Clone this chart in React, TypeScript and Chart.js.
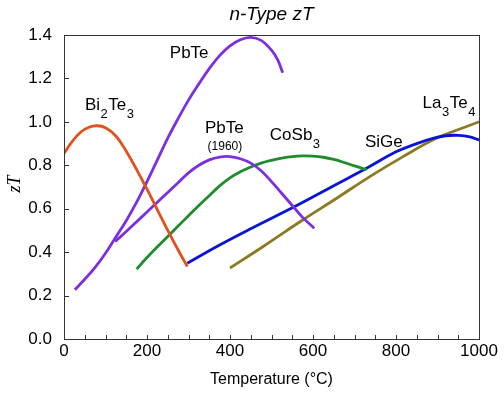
import React, { useEffect, useRef } from "react";
import { Chart, registerables } from "chart.js";

Chart.register(...registerables);

// ---- Data (temperature °C, zT) ----
const bi2te3T = [0, 20, 40, 60, 80, 100, 125, 150, 175, 200, 225, 250, 275, 297];
const bi2te3ZT = [0.855, 0.91, 0.952, 0.975, 0.982, 0.973, 0.935, 0.865, 0.78, 0.69, 0.595, 0.5, 0.41, 0.334];

const pbteT = [26, 50, 75, 100, 125, 150, 175, 200, 225, 250, 275, 300, 325, 350, 375, 400, 425, 450, 475, 500, 515, 527];
const pbteZT = [0.227, 0.275, 0.33, 0.395, 0.47, 0.545, 0.63, 0.725, 0.825, 0.925, 1.015, 1.1, 1.175, 1.245, 1.305, 1.35, 1.378, 1.389, 1.375, 1.33, 1.285, 1.226];

const pbte1960T = [123, 150, 175, 200, 225, 250, 275, 300, 325, 350, 375, 400, 425, 450, 475, 500, 525, 550, 575, 603];
const pbte1960ZT = [0.449, 0.495, 0.54, 0.585, 0.63, 0.675, 0.72, 0.765, 0.8, 0.825, 0.838, 0.84, 0.83, 0.81, 0.775, 0.725, 0.67, 0.615, 0.56, 0.51];

const cosb3T = [175, 200, 225, 250, 275, 300, 325, 350, 375, 400, 425, 450, 475, 500, 525, 550, 575, 600, 625, 650, 675, 700, 729];
const cosb3ZT = [0.322, 0.375, 0.425, 0.472, 0.52, 0.568, 0.615, 0.66, 0.705, 0.742, 0.77, 0.792, 0.81, 0.823, 0.833, 0.84, 0.843, 0.842, 0.837, 0.827, 0.813, 0.797, 0.78];

const sigeT = [297, 375, 450, 556, 650, 729, 800, 850, 889, 920, 950, 978, 1000];
const sigeZT = [0.349, 0.433, 0.508, 0.61, 0.706, 0.786, 0.862, 0.9, 0.924, 0.936, 0.938, 0.931, 0.916];

const la3te4T = [400, 480, 576, 657, 737, 817, 897, 954, 1000];
const la3te4ZT = [0.327, 0.426, 0.549, 0.648, 0.748, 0.84, 0.924, 0.967, 1.0];

const xMin = 0;
const xMax = 1000;
const xStep = 50;
const xLabelEvery = 200;
const yMin = 0;
const yMax = 1.4;
const yStep = 0.2;

const titleText = "n-Type zT";
const xTitle = "Temperature (°C)";
const yTitle = "zT";

// Curve labels: parts as [text, isSubscript]
const labelParts: [string, boolean][][] = [
  [["PbTe", false]],
  [["Bi", false], ["2", true], ["Te", false], ["3", true]],
  [["PbTe", false]],
  [["CoSb", false], ["3", true]],
  [["SiGe", false]],
  [["La", false], ["3", true], ["Te", false], ["4", true]],
];
const labelT = [255, 50.6, 339.5, 496, 725, 864];
const labelZT = [1.293, 1.054, 0.948, 0.916, 0.884, 1.063];
const noteText = "(1960)";
const noteT = 387.7;
const noteZT = 0.87;

const colors = {
  bi: "#E2501C",
  pbte: "#7B2FE0",
  co: "#1C8C2C",
  si: "#0A14D6",
  la: "#8C7A22",
};

const pts = (xs: number[], ys: number[]) => xs.map((x, i) => ({ x, y: ys[i] }));

const SANS = 'Arial, "Liberation Sans", sans-serif';

const decorPlugin = {
  id: "decor",
  afterDraw(chart: any) {
    const { ctx, chartArea } = chart;
    const xs = chart.scales.x;
    const ys = chart.scales.y;
    const { left, right, top, bottom } = chartArea;
    ctx.save();
    // frame
    ctx.strokeStyle = "#333";
    ctx.lineWidth = 1;
    ctx.strokeRect(Math.round(left) + 0.5, Math.round(top) + 0.5, Math.round(right - left), Math.round(bottom - top));
    // ticks (inside)
    ctx.beginPath();
    xs.ticks.forEach((t: any) => {
      const px = Math.round(xs.getPixelForValue(t.value)) + 0.5;
      ctx.moveTo(px, bottom);
      ctx.lineTo(px, bottom - 4);
    });
    ys.ticks.forEach((t: any) => {
      const py = Math.round(ys.getPixelForValue(t.value)) + 0.5;
      ctx.moveTo(left, py);
      ctx.lineTo(left + 5, py);
    });
    ctx.stroke();

    ctx.fillStyle = "#000";
    // title
    ctx.font = "italic 19px " + SANS;
    ctx.textAlign = "center";
    ctx.textBaseline = "middle";
    ctx.fillText(titleText, (left + right) / 2, 15);
    // x title
    ctx.font = "16px " + SANS;
    ctx.fillText(xTitle, (left + right) / 2, 380);
    // y title
    ctx.save();
    ctx.translate(15, 184);
    ctx.rotate(-Math.PI / 2);
    ctx.font = 'italic 18px "Liberation Serif", "Times New Roman", serif';
    ctx.fillText(yTitle, 0, 0);
    ctx.restore();

    // curve labels
    ctx.textAlign = "left";
    ctx.textBaseline = "alphabetic";
    labelParts.forEach((parts, i) => {
      let px = xs.getPixelForValue(labelT[i]);
      const py = ys.getPixelForValue(labelZT[i]);
      parts.forEach(([txt, sub]) => {
        ctx.font = (sub ? "13px " : "17px ") + SANS;
        ctx.fillText(txt, px, sub ? py + 8 : py);
        px += ctx.measureText(txt).width + 0.5;
      });
    });
    ctx.textAlign = "center";
    ctx.font = "12px " + SANS;
    ctx.fillText(noteText, xs.getPixelForValue(noteT), ys.getPixelForValue(noteZT));
    ctx.restore();
  },
};

export default function App() {
  const ref = useRef<HTMLCanvasElement | null>(null);
  useEffect(() => {
    if (!ref.current) return;
    const line = (data: any, color: string) => ({
      data,
      borderColor: color,
      backgroundColor: color,
      borderWidth: 2.8,
      pointRadius: 0,
      tension: 0.4,
      fill: false,
    });
    const chart = new Chart(ref.current, {
      type: "line",
      data: {
        datasets: [
          line(pts(bi2te3T, bi2te3ZT), colors.bi),
          line(pts(pbteT, pbteZT), colors.pbte),
          line(pts(pbte1960T, pbte1960ZT), colors.pbte),
          line(pts(cosb3T, cosb3ZT), colors.co),
          line(pts(sigeT, sigeZT), colors.si),
          line(pts(la3te4T, la3te4ZT), colors.la),
        ],
      },
      options: {
        responsive: false,
        animation: false,
        layout: { padding: { top: 35, right: 25, left: 0, bottom: 0 } },
        plugins: { legend: { display: false }, tooltip: { enabled: false }, title: { display: false } },
        scales: {
          x: {
            type: "linear",
            min: xMin,
            max: xMax,
            grid: { display: false, drawTicks: false },
            border: { display: false },
            ticks: {
              stepSize: xStep,
              autoSkip: false,
              maxRotation: 0,
              padding: 2,
              color: "#000",
              font: { family: SANS, size: 17 },
              callback: (v: any) => (Number(v) % xLabelEvery === 0 ? String(v) : ""),
            },
            afterFit: (s: any) => {
              s.height = 56;
            },
          },
          y: {
            min: yMin,
            max: yMax,
            grid: { display: false, drawTicks: false },
            border: { display: false },
            ticks: {
              stepSize: yStep,
              padding: 12,
              color: "#000",
              font: { family: SANS, size: 17 },
              callback: (v: any) => Number(v).toFixed(1),
            },
            afterFit: (s: any) => {
              s.width = 64;
            },
          },
        },
      },
      plugins: [decorPlugin],
    });
    return () => chart.destroy();
  }, []);
  return (
    <div style={{ position: "fixed", left: 0, top: 0, width: 504, height: 395, background: "#fff" }}>
      <canvas ref={ref} width={504} height={395} />
    </div>
  );
}
